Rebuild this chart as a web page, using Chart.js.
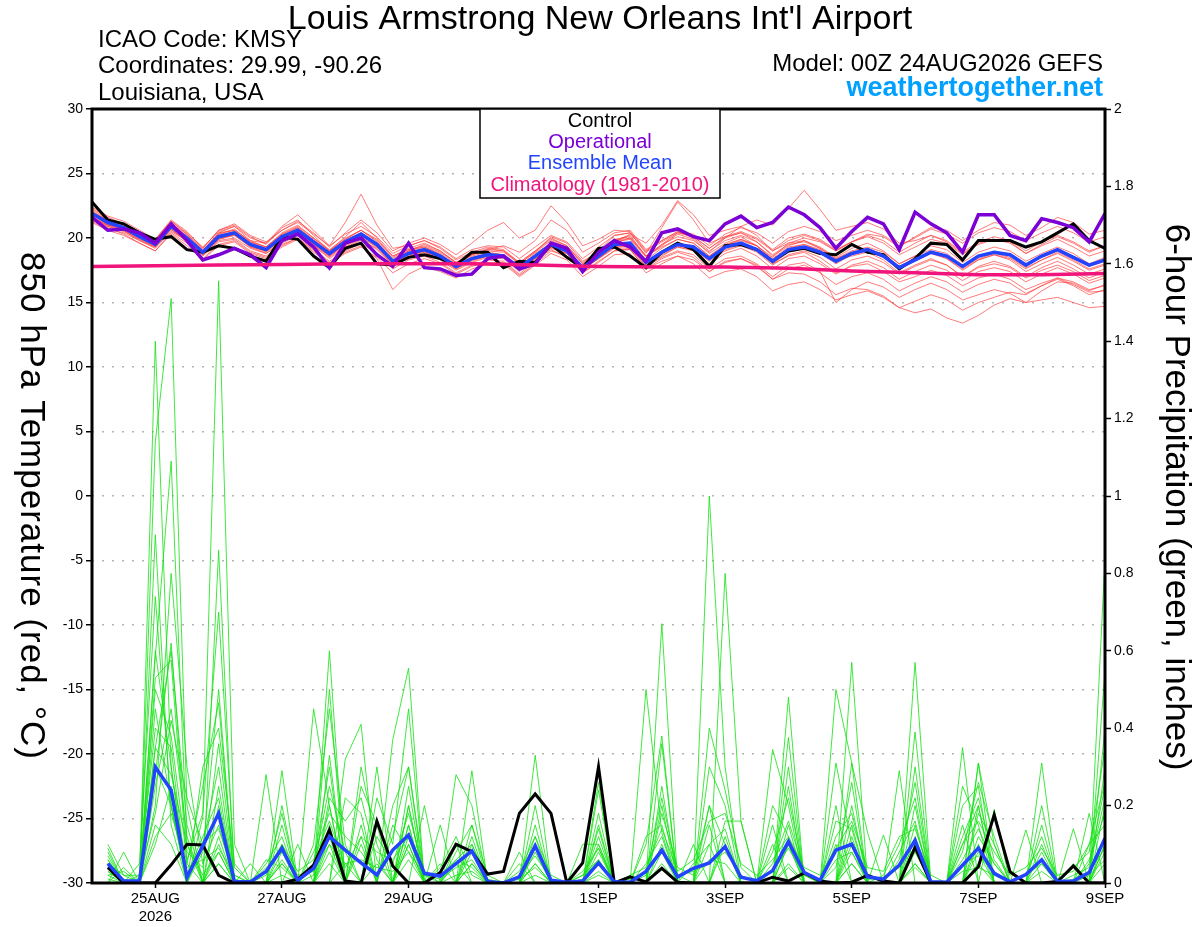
<!DOCTYPE html>
<html>
<head>
<meta charset="utf-8">
<title>KMSY GEFS plume</title>
<script src="https://cdn.jsdelivr.net/npm/chart.js@4.4.1/dist/chart.umd.min.js"></script>
<style>
  html, body { margin: 0; padding: 0; background: #fff; }
  #wrap { width: 1200px; height: 927px; }
</style>
</head>
<body>
<div id="wrap"><canvas id="plume" width="1200" height="927"></canvas></div>
<script>
'use strict';

// x axis ticks (hours after 00Z 24AUG2026)
let dayTicks = [24, 72, 120, 192, 240, 288, 336, 384];
let dayLabels = ['25AUG', '27AUG', '29AUG', '1SEP', '3SEP', '5SEP', '7SEP', '9SEP'];

// climatology, one value per day (00Z)
let climHours = [0, 24, 48, 72, 96, 120, 144, 168, 192, 216, 240, 264, 288, 312, 336, 360, 384];
let climTemp = [17.8, 17.85, 17.9, 17.95, 18.0, 18.0, 18.0, 17.9, 17.8, 17.75, 17.75, 17.65, 17.45, 17.3, 17.15, 17.15, 17.25];

// 850 hPa temperature, 6-hourly, hour 0..384 (65 values)
let ctrlTemp = [22.8, 21.4, 21.1, 20.4, 19.9, 20.1, 19.1, 18.9, 19.4, 19.2, 18.6, 18.2, 20.1, 19.9, 18.6, 17.7,
  19.2, 19.6, 18.0, 17.9, 18.5, 18.7, 18.4, 17.9, 18.9, 18.9, 17.7, 18.2, 18.1, 19.5, 18.5, 17.7,
  19.2, 19.3, 18.6, 17.7, 18.9, 19.6, 19.1, 17.8, 19.4, 19.5, 19.1, 18.2, 19.0, 19.2, 18.8, 18.7,
  19.5, 18.9, 18.7, 17.6, 18.4, 19.6, 19.5, 18.3, 19.8, 19.8, 19.8, 19.3, 19.7, 20.4, 21.1, 19.8, 19.2];
let operTemp = [21.6, 20.6, 20.7, 20.4, 19.6, 21.1, 19.8, 18.3, 18.7, 19.2, 18.7, 17.7, 19.8, 20.3, 19.3, 17.7,
  19.6, 20.0, 18.7, 17.8, 19.6, 17.7, 17.6, 17.1, 17.2, 18.4, 18.6, 17.6, 18.0, 19.6, 19.2, 17.4,
  18.9, 19.8, 19.3, 18.2, 20.4, 20.7, 20.1, 19.8, 21.1, 21.7, 20.8, 21.2, 22.4, 21.8, 20.8, 19.2,
  20.5, 21.6, 21.1, 19.1, 22.0, 21.1, 20.4, 18.9, 21.8, 21.8, 20.2, 19.8, 21.5, 21.2, 20.8, 19.7, 21.9];
let meanTemp = [21.9, 21.2, 20.8, 20.1, 19.5, 20.9, 20.0, 18.9, 20.1, 20.4, 19.5, 19.1, 20.1, 20.6, 19.7, 18.8,
  19.7, 20.3, 19.5, 18.2, 18.8, 19.1, 18.6, 17.8, 18.4, 18.7, 18.6, 17.7, 18.6, 19.5, 19.0, 17.7,
  18.6, 19.5, 19.6, 18.1, 18.9, 19.5, 19.3, 18.4, 19.3, 19.6, 19.1, 18.2, 19.1, 19.3, 18.9, 18.2,
  18.8, 19.1, 18.6, 17.7, 18.3, 18.9, 18.6, 17.8, 18.6, 18.9, 18.7, 17.9, 18.6, 19.1, 18.5, 17.9, 18.3];

// ensemble members, temperature
let t01 = [21.6, 21.0, 20.9, 20.4, 19.8, 21.3, 20.3, 19.2, 20.6, 21.0, 20.1, 19.5, 20.8, 21.4, 20.2, 19.0,
  20.1, 21.2, 20.0, 18.6, 19.2, 19.6, 19.0, 18.1, 18.7, 19.2, 19.0, 18.0, 18.9, 20.1, 19.6, 18.2,
  18.9, 19.8, 20.2, 18.6, 19.4, 20.3, 19.9, 18.8, 19.6, 20.1, 19.4, 18.0, 18.6, 18.9, 18.2, 17.3,
  17.8, 18.0, 17.4, 16.6, 17.0, 17.5, 17.1, 16.3, 16.9, 17.2, 16.8, 16.0, 16.5, 16.9, 16.4, 15.8, 15.9];
let t02 = [21.4, 20.8, 20.3, 19.6, 19.0, 20.4, 19.6, 18.4, 19.5, 19.8, 18.9, 18.5, 19.4, 20.0, 19.1, 18.2,
  19.0, 19.6, 18.8, 17.6, 18.3, 18.6, 18.1, 17.3, 17.9, 18.3, 18.2, 17.2, 18.2, 19.2, 18.8, 17.5,
  18.5, 19.6, 20.0, 18.5, 19.5, 20.4, 20.3, 19.4, 20.3, 20.8, 20.4, 19.6, 20.5, 20.9, 20.5, 19.8,
  20.2, 20.6, 20.2, 19.4, 20.0, 20.7, 20.3, 19.6, 20.4, 20.8, 20.5, 19.8, 20.4, 20.9, 20.4, 19.7, 20.1];
let t03 = [22.2, 21.5, 21.0, 20.2, 19.6, 21.2, 20.1, 19.0, 20.4, 20.9, 19.8, 19.6, 20.9, 21.8, 20.6, 19.4,
  21.2, 23.4, 21.0, 19.2, 19.4, 19.8, 19.2, 18.3, 18.9, 19.3, 19.1, 18.1, 19.0, 20.0, 19.4, 18.1,
  19.0, 20.2, 20.4, 18.8, 20.8, 22.8, 21.4, 19.6, 20.1, 20.4, 19.7, 18.6, 19.4, 19.8, 19.3, 18.5,
  19.2, 19.6, 19.0, 18.0, 18.6, 19.4, 19.1, 18.1, 18.9, 19.3, 19.0, 18.2, 18.8, 19.3, 18.8, 18.0, 18.5];
let t04 = [21.7, 21.1, 20.6, 19.8, 19.2, 20.5, 19.8, 18.7, 19.8, 20.0, 19.2, 18.8, 19.6, 20.2, 19.4, 18.4,
  19.3, 19.8, 19.2, 17.9, 18.5, 18.9, 18.3, 17.5, 18.1, 18.5, 18.4, 17.4, 18.3, 19.1, 18.5, 17.3,
  18.2, 19.0, 19.1, 17.6, 18.4, 18.9, 18.5, 17.4, 18.2, 18.4, 17.9, 16.8, 17.3, 17.2, 16.6, 15.6,
  16.1, 16.0, 15.5, 14.6, 14.2, 14.5, 13.8, 13.4, 14.0, 14.8, 15.3, 15.0, 15.9, 16.6, 16.5, 15.9, 16.4];
let t05 = [22.0, 21.4, 21.1, 20.3, 19.7, 21.0, 20.2, 19.1, 20.3, 20.6, 19.7, 19.3, 20.3, 20.9, 20.0, 19.1,
  20.0, 20.6, 19.9, 18.5, 19.1, 19.4, 18.9, 18.1, 18.8, 19.0, 18.9, 18.0, 18.9, 19.8, 19.3, 18.0,
  18.9, 19.9, 20.1, 18.6, 19.5, 20.1, 19.8, 18.9, 20.0, 20.9, 21.4, 21.0, 22.3, 23.7, 22.2, 20.6,
  20.9, 21.2, 20.7, 19.6, 19.8, 20.2, 19.7, 18.8, 19.5, 19.9, 19.6, 18.8, 19.4, 19.9, 19.3, 18.6, 19.0];
let t06 = [21.5, 20.9, 20.5, 19.9, 19.3, 20.7, 19.7, 18.6, 19.7, 19.9, 19.0, 18.6, 19.5, 20.0, 19.0, 18.1,
  18.9, 19.4, 18.4, 16.0, 17.2, 17.8, 17.4, 16.9, 17.6, 18.0, 18.1, 17.1, 18.0, 19.0, 18.6, 17.3,
  18.1, 19.0, 19.2, 17.8, 18.6, 19.3, 19.0, 18.0, 18.8, 19.2, 18.6, 17.6, 18.4, 18.6, 18.0, 17.2,
  17.9, 18.2, 17.7, 16.8, 17.4, 17.9, 17.5, 16.7, 17.4, 17.7, 17.4, 16.6, 17.2, 17.7, 17.2, 16.5, 16.9];
let t07 = [22.1, 21.4, 21.0, 20.4, 19.9, 21.3, 20.4, 19.3, 20.5, 20.9, 20.0, 19.6, 20.6, 21.2, 20.3, 19.4,
  20.3, 20.9, 20.1, 18.8, 19.4, 19.8, 19.3, 18.4, 19.1, 19.4, 19.3, 18.4, 19.3, 20.2, 19.7, 18.4,
  19.3, 20.2, 20.4, 18.9, 19.7, 20.4, 20.1, 19.2, 20.1, 20.5, 20.0, 19.1, 20.0, 20.3, 19.9, 19.1,
  19.7, 20.1, 19.6, 18.7, 19.3, 19.9, 19.6, 18.7, 19.6, 19.9, 19.7, 18.8, 19.5, 20.1, 19.6, 18.9, 19.4];
let t08 = [21.8, 21.2, 20.7, 20.0, 19.4, 20.9, 19.9, 18.8, 20.0, 20.3, 19.4, 18.9, 19.9, 20.4, 19.5, 18.6,
  19.5, 20.0, 19.3, 18.0, 18.6, 19.0, 18.5, 17.6, 18.3, 18.6, 18.5, 17.6, 18.4, 19.3, 18.8, 17.6,
  18.4, 19.3, 19.3, 17.8, 18.5, 19.0, 18.7, 17.6, 18.4, 18.6, 18.0, 17.0, 17.9, 18.1, 17.4, 15.0,
  16.0, 16.6, 16.2, 15.4, 16.0, 16.5, 16.0, 15.2, 15.6, 16.0, 15.7, 15.0, 15.2, 15.4, 15.0, 14.6, 14.7];
let t09 = [21.9, 21.3, 20.9, 20.2, 19.6, 20.8, 20.0, 18.9, 20.2, 20.5, 19.6, 19.2, 20.2, 20.8, 19.8, 18.9,
  19.8, 20.4, 19.6, 18.3, 19.0, 19.3, 18.7, 17.9, 18.7, 19.1, 19.4, 18.9, 19.8, 21.4, 20.6, 18.9,
  19.6, 20.4, 20.6, 19.1, 19.8, 20.5, 20.0, 19.0, 19.8, 20.2, 19.7, 18.7, 19.5, 19.7, 19.2, 18.4,
  19.0, 19.3, 18.9, 18.0, 18.6, 19.1, 18.8, 17.9, 18.6, 18.9, 18.7, 17.9, 18.5, 19.0, 18.4, 17.8, 18.2];
let t10 = [21.6, 21.0, 20.6, 20.0, 19.5, 20.8, 19.9, 18.8, 20.0, 20.2, 19.3, 19.0, 19.9, 20.5, 19.6, 18.7,
  19.6, 20.2, 19.4, 18.1, 18.7, 19.0, 18.5, 17.7, 18.3, 18.6, 18.5, 17.6, 18.5, 19.4, 18.9, 17.6,
  18.5, 19.5, 19.6, 18.1, 18.9, 19.6, 19.4, 18.5, 19.4, 19.8, 19.4, 18.5, 19.6, 20.0, 19.7, 19.0,
  19.7, 20.3, 20.1, 19.3, 20.1, 20.8, 20.6, 19.8, 20.6, 21.2, 21.0, 20.2, 20.8, 21.6, 21.2, 20.3, 20.6];
let t11 = [22.3, 21.6, 21.1, 20.5, 19.8, 21.1, 20.3, 19.0, 20.4, 20.6, 19.8, 19.3, 20.3, 20.8, 19.9, 19.0,
  19.9, 20.6, 19.8, 18.6, 19.1, 19.3, 18.8, 18.0, 18.6, 18.9, 18.7, 17.8, 18.6, 19.6, 19.1, 17.8,
  18.7, 19.8, 20.0, 18.6, 19.3, 19.9, 19.6, 18.6, 19.5, 19.9, 19.4, 18.4, 19.3, 19.5, 19.1, 18.3,
  18.6, 18.9, 18.3, 17.3, 17.9, 18.4, 17.9, 17.0, 17.8, 18.2, 17.8, 17.0, 17.7, 18.2, 17.6, 16.9, 17.4];
let t12 = [21.3, 20.7, 20.4, 19.8, 19.3, 20.6, 19.8, 18.7, 19.9, 20.3, 19.3, 18.8, 19.8, 20.5, 19.5, 18.6,
  19.5, 20.1, 19.3, 18.0, 18.7, 19.0, 18.5, 17.7, 18.4, 18.8, 18.7, 17.8, 18.8, 19.6, 19.1, 17.8,
  18.6, 19.4, 19.5, 18.0, 18.8, 19.4, 19.2, 18.3, 19.1, 19.5, 19.0, 18.0, 18.9, 19.2, 18.8, 18.0,
  18.7, 19.0, 18.5, 17.6, 18.2, 18.8, 18.4, 17.5, 18.3, 18.7, 18.4, 17.6, 18.3, 18.8, 18.2, 17.5, 17.9];
let t13 = [22.0, 21.3, 20.8, 20.1, 19.4, 20.9, 20.0, 18.9, 20.1, 20.4, 19.5, 19.1, 20.0, 20.7, 19.8, 18.8,
  19.7, 20.3, 19.5, 18.2, 18.9, 19.2, 18.7, 17.9, 18.5, 18.8, 18.6, 17.7, 18.6, 19.5, 19.0, 17.7,
  18.6, 19.7, 20.3, 19.6, 21.0, 22.9, 21.8, 20.2, 20.6, 20.9, 20.2, 19.0, 19.6, 19.8, 19.2, 18.4,
  18.9, 19.2, 18.7, 17.8, 18.4, 18.9, 18.5, 17.7, 18.4, 18.8, 18.5, 17.7, 18.3, 18.9, 18.3, 17.6, 18.0];
let t14 = [21.5, 20.9, 20.6, 19.9, 19.3, 20.7, 19.8, 18.7, 19.9, 20.2, 19.4, 19.0, 19.9, 20.4, 19.4, 18.5,
  19.4, 19.9, 19.1, 17.9, 18.5, 18.9, 18.4, 17.6, 18.2, 18.6, 18.5, 17.5, 18.4, 19.3, 18.8, 17.5,
  18.4, 19.3, 19.4, 17.9, 18.7, 19.3, 19.1, 18.2, 19.0, 19.4, 18.9, 17.9, 18.7, 19.0, 18.5, 17.6,
  18.3, 18.6, 18.1, 17.2, 17.8, 18.3, 17.9, 17.0, 17.7, 18.0, 17.7, 16.9, 17.5, 17.9, 17.4, 16.7, 17.1];
let t15 = [21.2, 20.6, 20.2, 19.6, 19.0, 20.3, 19.4, 18.3, 19.4, 19.7, 18.8, 18.4, 19.3, 19.9, 18.9, 18.0,
  18.8, 19.3, 18.5, 17.3, 18.0, 18.4, 18.0, 17.2, 17.8, 18.1, 18.0, 17.0, 17.9, 18.8, 18.3, 17.0,
  17.8, 18.7, 18.8, 17.3, 18.0, 18.6, 18.3, 17.4, 18.1, 18.4, 17.8, 16.8, 17.6, 17.9, 17.3, 16.4,
  17.0, 17.3, 16.8, 15.9, 16.5, 17.0, 16.6, 15.8, 16.4, 16.8, 16.5, 15.7, 16.3, 16.8, 16.3, 15.6, 16.0];
let t16 = [22.4, 21.7, 21.3, 20.6, 19.9, 21.4, 20.5, 19.2, 20.6, 21.1, 20.2, 19.7, 20.6, 21.3, 20.4, 19.3,
  20.4, 21.4, 20.4, 19.0, 19.6, 20.0, 19.5, 18.7, 19.6, 20.6, 21.2, 20.0, 20.6, 22.5, 21.2, 19.4,
  19.9, 20.6, 20.5, 19.0, 19.8, 20.5, 20.1, 19.2, 20.0, 20.4, 19.9, 19.0, 19.8, 20.2, 19.8, 19.0,
  19.7, 20.2, 19.8, 18.9, 19.6, 20.2, 19.8, 18.9, 19.7, 20.1, 19.8, 19.0, 19.7, 20.2, 19.7, 19.0, 19.4];
let t17 = [21.8, 21.1, 20.9, 20.2, 19.5, 21.0, 20.1, 19.0, 20.3, 20.7, 19.7, 19.3, 20.4, 21.0, 20.0, 19.0,
  19.9, 20.6, 19.7, 18.4, 19.0, 19.5, 19.0, 18.1, 18.7, 19.1, 19.0, 18.1, 19.0, 19.9, 19.4, 18.0,
  18.8, 19.7, 19.9, 18.3, 19.2, 19.9, 19.6, 18.6, 19.4, 19.9, 19.4, 18.3, 19.2, 19.5, 19.0, 18.1,
  18.8, 19.2, 18.7, 17.7, 18.3, 18.9, 18.4, 17.6, 18.3, 18.7, 18.3, 17.4, 18.0, 18.5, 17.9, 17.2, 17.6];
let t18 = [21.6, 21.0, 20.7, 20.0, 19.4, 20.8, 19.9, 18.8, 20.0, 20.3, 19.4, 19.0, 20.0, 20.6, 19.6, 18.6,
  19.6, 20.2, 19.4, 18.1, 18.8, 19.1, 18.6, 17.8, 18.4, 18.8, 18.7, 17.7, 18.6, 19.5, 19.0, 17.6,
  18.4, 19.2, 19.1, 17.6, 18.2, 18.6, 18.0, 16.9, 17.4, 17.6, 17.0, 15.9, 16.4, 16.6, 16.0, 15.2,
  15.6, 15.9, 15.4, 14.6, 15.1, 15.6, 15.2, 14.4, 15.0, 15.4, 15.8, 15.6, 16.3, 16.9, 16.6, 16.0, 16.3];

// 6-hour precipitation (inches), hour 6..384 (64 values, none at hour 0)
let ctrlPrecip = [0.04, 0, 0, 0, 0.047, 0.10, 0.098, 0.02, 0, 0, 0, 0, 0.01, 0.046, 0.137, 0.005,
  0, 0.16, 0.044, 0, 0, 0.027, 0.10, 0.081, 0.023, 0.03, 0.18, 0.23, 0.18, 0, 0.052, 0.30,
  0, 0.016, 0.003, 0.038, 0.002, 0, 0, 0, 0, 0, 0.015, 0.005, 0.026, 0.005, 0, 0.002,
  0.02, 0.005, 0, 0.092, 0, 0, 0, 0.042, 0.176, 0.029, 0, 0, 0.004, 0.044, 0, 0];
let meanPrecip = [0.05, 0.005, 0.005, 0.30, 0.24, 0.015, 0.096, 0.18, 0.003, 0.003, 0.03, 0.09, 0.007, 0.038, 0.12, 0.085,
  0.052, 0.021, 0.085, 0.124, 0.025, 0.018, 0.05, 0.083, 0.004, 0, 0.016, 0.096, 0.007, 0.002, 0.005, 0.052,
  0.003, 0.002, 0.03, 0.085, 0.016, 0.038, 0.052, 0.094, 0.015, 0.006, 0.032, 0.107, 0.027, 0.007, 0.085, 0.10,
  0.016, 0.01, 0.046, 0.11, 0.003, 0.002, 0.046, 0.09, 0.025, 0.003, 0.022, 0.06, 0.004, 0.005, 0.027, 0.116];

// ensemble members, precipitation
let p01 = [0.05, 0, 0, 1.40, 0.30, 0, 0, 0.12, 0, 0, 0, 0, 0, 0.02, 0.60, 0, 0, 0, 0, 0.10, 0, 0, 0, 0,
  0, 0, 0, 0.05, 0, 0, 0, 0.02, 0, 0, 0, 0.67, 0, 0, 0.20, 0, 0, 0, 0, 0, 0, 0, 0, 0.57,
  0, 0, 0, 0.05, 0, 0, 0, 0.31, 0, 0, 0, 0, 0, 0, 0, 0.84];
let p02 = [0.10, 0.02, 0, 1.14, 1.51, 0.20, 0, 0.05, 0, 0, 0, 0.29, 0, 0, 0, 0.32, 0.41, 0, 0, 0, 0, 0, 0, 0.29,
  0, 0, 0, 0, 0, 0, 0, 0.26, 0, 0, 0, 0, 0, 0, 1.00, 0.30, 0, 0, 0, 0.48, 0, 0, 0, 0,
  0, 0, 0, 0.39, 0, 0, 0, 0, 0.19, 0, 0, 0.31, 0, 0, 0, 0];
let p03 = [0, 0, 0.05, 0.74, 0.20, 0, 0.17, 1.556, 0.10, 0, 0, 0, 0, 0, 0.50, 0, 0, 0, 0.37, 0.555, 0, 0, 0.10, 0,
  0, 0, 0, 0.33, 0, 0, 0, 0, 0, 0, 0.10, 0.38, 0, 0, 0, 0.80, 0.16, 0, 0, 0, 0, 0, 0.50, 0.31,
  0, 0, 0, 0, 0, 0, 0.35, 0, 0, 0, 0, 0, 0, 0, 0.18, 0];
let p04 = [0.07, 0, 0, 0.585, 1.09, 0.10, 0, 0.86, 0, 0, 0.28, 0, 0, 0.45, 0.20, 0, 0, 0.30, 0, 0, 0, 0.15, 0, 0,
  0, 0, 0.08, 0, 0, 0, 0.10, 0.10, 0, 0, 0, 0, 0, 0, 0, 0, 0, 0, 0.345, 0.20, 0, 0, 0, 0,
  0, 0, 0, 0.57, 0, 0, 0, 0.20, 0, 0, 0.137, 0, 0, 0, 0, 0.30];
let p05 = [0, 0.08, 0, 0.53, 0.576, 0.05, 0.25, 0.466, 0, 0, 0, 0.15, 0, 0, 0.33, 0, 0.25, 0.15, 0, 0, 0.20, 0, 0, 0.10,
  0, 0, 0, 0, 0, 0, 0, 0.24, 0, 0, 0, 0.36, 0, 0, 0, 0, 0, 0, 0, 0.376, 0, 0, 0.31, 0.10,
  0, 0, 0.29, 0, 0, 0, 0.15, 0, 0, 0, 0, 0.10, 0, 0.14, 0, 0.55];
let p06 = [0.03, 0, 0.02, 0.40, 0.35, 0, 0.10, 0.30, 0, 0.05, 0, 0, 0.10, 0, 0, 0.22, 0.18, 0, 0.20, 0.30, 0, 0, 0, 0.05,
  0, 0, 0, 0.15, 0, 0, 0, 0.15, 0, 0, 0.50, 0.13, 0, 0, 0, 0.16, 0.16, 0, 0.10, 0, 0, 0, 0, 0.31,
  0.13, 0, 0, 0.30, 0, 0, 0, 0.31, 0.10, 0, 0, 0, 0, 0, 0, 0.20];
let p07 = [0.08, 0, 0, 0.25, 0.45, 0.12, 0, 0.20, 0, 0, 0.05, 0.12, 0, 0.10, 0.45, 0.10, 0, 0, 0, 0.20, 0, 0, 0.28, 0.20,
  0, 0, 0, 0.10, 0, 0, 0, 0.08, 0, 0, 0, 0.20, 0, 0.10, 0, 0, 0, 0, 0, 0.15, 0, 0, 0, 0.10,
  0, 0.124, 0, 0.15, 0, 0, 0.25, 0.15, 0, 0, 0, 0, 0, 0, 0.10, 0.15];
let p08 = [0.02, 0, 0, 0.90, 0.15, 0, 0, 0.10, 0, 0, 0, 0.20, 0, 0, 0.20, 0, 0.30, 0.10, 0, 0.15, 0, 0, 0, 0.12,
  0, 0, 0.05, 0, 0, 0, 0, 0.12, 0, 0, 0, 0, 0, 0, 0.30, 0.20, 0, 0, 0, 0.10, 0, 0, 0.20, 0,
  0, 0, 0, 0.10, 0, 0, 0, 0.08, 0, 0, 0, 0.05, 0, 0, 0, 0.08];
let p09 = [0, 0, 0, 0.20, 0.80, 0.30, 0.05, 0.15, 0, 0, 0, 0, 0, 0, 0.12, 0, 0, 0.22, 0.10, 0.45, 0, 0, 0, 0,
  0, 0, 0, 0.20, 0, 0, 0, 0, 0, 0, 0, 0.10, 0, 0, 0.15, 0, 0, 0, 0, 0.30, 0, 0, 0, 0.20,
  0, 0, 0, 0.20, 0, 0, 0.10, 0.20, 0, 0, 0, 0, 0, 0, 0, 0.10];
let p10 = [0.04, 0, 0, 0.15, 0.10, 0, 0.30, 0.40, 0.05, 0, 0, 0.10, 0, 0.05, 0.30, 0, 0.15, 0, 0, 0.20, 0, 0, 0, 0.15,
  0, 0, 0, 0, 0, 0, 0, 0.05, 0, 0, 0.12, 0.15, 0, 0, 0, 0.10, 0, 0, 0.15, 0, 0, 0, 0, 0.15,
  0, 0, 0, 0.10, 0, 0, 0, 0.12, 0.05, 0, 0, 0, 0, 0.05, 0, 0.40];
let p11 = [0, 0.04, 0, 0.35, 0.60, 0.15, 0, 0.08, 0, 0, 0, 0.05, 0, 0, 0.15, 0, 0.10, 0, 0, 0.25, 0, 0.05, 0, 0.08,
  0, 0, 0, 0.08, 0, 0, 0, 0.18, 0, 0, 0, 0.25, 0, 0, 0, 0, 0, 0, 0, 0.25, 0, 0, 0.10, 0,
  0, 0, 0, 0.05, 0, 0, 0.20, 0.25, 0, 0, 0, 0.15, 0, 0, 0, 0.05];
let p12 = [0.06, 0, 0, 0.60, 0.30, 0, 0, 0.25, 0, 0, 0, 0.05, 0, 0, 0.10, 0, 0, 0.05, 0, 0.12, 0, 0, 0, 0.05,
  0, 0, 0, 0, 0, 0, 0, 0.10, 0, 0, 0, 0, 0, 0, 0.10, 0, 0, 0, 0, 0.10, 0, 0, 0, 0.05,
  0, 0, 0, 0.12, 0, 0, 0, 0.10, 0, 0, 0, 0, 0, 0, 0.05, 0.25];
let p13 = [0, 0, 0, 0.10, 0.25, 0.05, 0, 0.05, 0, 0, 0, 0, 0, 0, 0.08, 0, 0.12, 0, 0, 0.10, 0, 0, 0.05, 0,
  0, 0, 0, 0, 0, 0, 0, 0.05, 0, 0, 0, 0.05, 0, 0, 0, 0, 0, 0, 0, 0.05, 0, 0, 0, 0.08,
  0, 0, 0, 0, 0, 0, 0, 0.05, 0, 0, 0, 0, 0, 0, 0, 0.12];
let p14 = [0.03, 0, 0, 0.30, 0.20, 0, 0.08, 0.50, 0, 0, 0, 0.08, 0, 0, 0, 0.05, 0, 0, 0.15, 0.08, 0, 0, 0, 0,
  0, 0, 0, 0.05, 0, 0, 0, 0, 0, 0, 0, 0.08, 0, 0, 0, 0.12, 0, 0, 0, 0, 0, 0, 0, 0.12,
  0, 0, 0, 0.08, 0, 0, 0, 0.18, 0.10, 0, 0, 0, 0, 0, 0, 0.10];
let p15 = [0.02, 0.03, 0, 0.12, 0.18, 0.04, 0.06, 0.09, 0.02, 0, 0.04, 0.08, 0.02, 0.03, 0.10, 0.05,
  0.06, 0.04, 0.03, 0.08, 0.02, 0.01, 0.04, 0.06, 0, 0, 0.02, 0.07, 0.01, 0, 0.01, 0.06,
  0, 0.01, 0.03, 0.09, 0.02, 0.03, 0.05, 0.08, 0.02, 0, 0.03, 0.09, 0.02, 0, 0.06, 0.08,
  0.01, 0.01, 0.04, 0.09, 0, 0, 0.05, 0.07, 0.03, 0, 0.02, 0.05, 0, 0.01, 0.03, 0.09];
let p16 = [0.06, 0, 0, 0.45, 0.20, 0.02, 0.12, 0.22, 0, 0, 0.02, 0.18, 0, 0.04, 0.25, 0.08,
  0, 0.12, 0.05, 0.18, 0.03, 0, 0.08, 0.15, 0.02, 0, 0, 0.12, 0, 0, 0.03, 0.09,
  0, 0, 0.05, 0.12, 0, 0.05, 0.10, 0.14, 0, 0, 0.05, 0.16, 0.03, 0, 0.12, 0.18,
  0.02, 0, 0.08, 0.16, 0, 0, 0.06, 0.14, 0.05, 0, 0, 0.08, 0, 0, 0.06, 0.18];
let p17 = [0.04, 0.01, 0, 0.28, 0.62, 0.08, 0.04, 0.36, 0.01, 0, 0, 0.06, 0, 0.08, 0.18, 0.12,
  0.08, 0.02, 0.12, 0.30, 0.02, 0, 0.06, 0.04, 0, 0, 0.01, 0.04, 0, 0, 0, 0.14,
  0, 0, 0.02, 0.22, 0.02, 0, 0.40, 0.24, 0.04, 0, 0.08, 0.22, 0.02, 0, 0.04, 0.26,
  0, 0.02, 0.10, 0.22, 0, 0, 0.12, 0.22, 0.06, 0, 0.02, 0.12, 0, 0.02, 0.04, 0.22];
let p18 = [0.09, 0, 0, 0.50, 0.38, 0.06, 0.18, 0.70, 0.04, 0, 0.06, 0.04, 0, 0, 0.22, 0.16,
  0.22, 0.06, 0, 0.15, 0, 0.04, 0.12, 0.02, 0, 0, 0, 0.09, 0, 0, 0.02, 0.06,
  0, 0, 0, 0.18, 0.04, 0.02, 0.20, 0.10, 0, 0, 0.20, 0.12, 0, 0, 0.16, 0.14,
  0, 0, 0.06, 0.26, 0, 0, 0.08, 0.26, 0.12, 0, 0, 0.20, 0, 0.04, 0.08, 0.35];
let p19 = [0.01, 0, 0, 0.35, 0.28, 0.10, 0.02, 0.08, 0, 0, 0, 0.02, 0, 0, 0.05, 0,
  0, 0, 0, 0.06, 0, 0, 0.02, 0.03, 0, 0, 0, 0.02, 0, 0, 0, 0.03,
  0, 0, 0, 0.04, 0, 0, 0.06, 0.05, 0, 0, 0, 0.04, 0, 0, 0, 0.05,
  0, 0, 0, 0.04, 0, 0, 0.03, 0.04, 0.02, 0, 0, 0.03, 0, 0, 0.02, 0.06];
let p20 = [0.05, 0.02, 0.02, 0.18, 0.42, 0.22, 0.10, 0.14, 0.02, 0, 0.03, 0.10, 0.03, 0.06, 0.16, 0.04,
  0.12, 0.08, 0.06, 0.12, 0.02, 0.02, 0.06, 0.10, 0.01, 0, 0.03, 0.12, 0.02, 0, 0.02, 0.09,
  0, 0.02, 0.04, 0.14, 0.03, 0.06, 0.16, 0.18, 0.05, 0.02, 0.06, 0.12, 0.04, 0.02, 0.09, 0.16,
  0.04, 0.03, 0.12, 0.14, 0.02, 0, 0.10, 0.16, 0.08, 0.02, 0.04, 0.09, 0.02, 0.03, 0.10, 0.26];

let tempMembers = [t01, t02, t03, t04, t05, t06, t07, t08, t09, t10, t11, t12, t13, t14, t15, t16, t17, t18];
let precipMembers = [p01, p02, p03, p04, p05, p06, p07, p08, p09, p10, p11, p12, p13, p14, p15, p16, p17, p18, p19, p20];

const FONT = '"Liberation Sans", Arial, Helvetica, sans-serif';

// 6-hourly time steps in hours
let hours = [];
for (let h = 0; h <= 384; h += 6) {
  hours.push(h);
}

function tempLine(values, color, width, order) {
  return {
    data: values,
    yAxisID: 'y',
    borderColor: color,
    borderWidth: width,
    pointRadius: 0,
    tension: 0,
    fill: false,
    order: order
  };
}

function precipLine(values, color, width, order) {
  // precip has no value at hour 0
  return {
    data: [null].concat(values),
    yAxisID: 'y2',
    borderColor: color,
    borderWidth: width,
    pointRadius: 0,
    tension: 0,
    fill: false,
    order: order
  };
}

let datasets = [];
datasets.push({
  data: climHours.map((h, i) => ({ x: h, y: climTemp[i] })),
  yAxisID: 'y',
  borderColor: '#f0147c',
  borderWidth: 3.5,
  pointRadius: 0,
  fill: false,
  order: 1
});
datasets.push(tempLine(operTemp, '#7a00d6', 3.5, 2));
datasets.push(tempLine(meanTemp, '#2244ff', 3.5, 3));
datasets.push(tempLine(ctrlTemp, '#000000', 3, 4));
datasets.push(precipLine(meanPrecip, '#2244ff', 3.5, 5));
datasets.push(precipLine(ctrlPrecip, '#000000', 3, 6));
for (let i = 0; i < tempMembers.length; i++) {
  datasets.push(tempLine(tempMembers[i], 'rgba(255, 60, 60, 0.85)', 0.8, 10));
}
for (let i = 0; i < precipMembers.length; i++) {
  datasets.push(precipLine(precipMembers[i], 'rgba(20, 225, 20, 0.9)', 0.9, 11));
}

// frame round the plot area
const framePlugin = {
  id: 'frame',
  afterDatasetsDraw(chart) {
    const { ctx, chartArea: a } = chart;
    ctx.save();
    ctx.strokeStyle = '#000';
    ctx.lineWidth = 3;
    ctx.strokeRect(a.left, a.top, a.right - a.left, a.bottom - a.top);
    ctx.restore();
  }
};

function spacedText(ctx, text, x, y, spacing) {
  ctx.letterSpacing = spacing + 'px';
  ctx.fillText(text, x, y);
  ctx.letterSpacing = '0px';
}

// header texts, axis titles (both read top to bottom) and the legend box
const headerPlugin = {
  id: 'header',
  afterDraw(chart) {
    const ctx = chart.ctx;
    ctx.save();
    ctx.textBaseline = 'middle';
    ctx.fillStyle = '#000';

    ctx.font = '34px ' + FONT;
    ctx.textAlign = 'center';
    ctx.fillText("Louis Armstrong New Orleans Int'l Airport", 600, 20);

    ctx.font = '24px ' + FONT;
    ctx.textAlign = 'left';
    ctx.fillText('ICAO Code: KMSY', 98, 40);
    ctx.fillText('Coordinates: 29.99, -90.26', 98, 66);
    ctx.fillText('Louisiana, USA', 98, 93);

    ctx.textAlign = 'right';
    ctx.fillText('Model: 00Z 24AUG2026 GEFS', 1103, 64);
    ctx.font = 'bold 27px ' + FONT;
    ctx.fillStyle = '#00a0ff';
    ctx.fillText('weathertogether.net', 1103, 89);

    // axis titles
    ctx.fillStyle = '#000';
    ctx.textAlign = 'center';
    ctx.font = '35px ' + FONT;
    ctx.save();
    ctx.translate(31, 506);
    ctx.rotate(Math.PI / 2);
    spacedText(ctx, '850 hPa Temperature (red, °C)', 0, 0, 1);
    ctx.restore();
    ctx.save();
    ctx.translate(1176, 497);
    ctx.rotate(Math.PI / 2);
    ctx.fillText('6-hour Precipitation (green, inches)', 0, 0);
    ctx.restore();

    // legend
    ctx.fillStyle = '#fff';
    ctx.fillRect(480, 109, 240, 89);
    ctx.strokeStyle = '#000';
    ctx.lineWidth = 1.5;
    ctx.strokeRect(480, 109, 240, 89);
    ctx.font = '20px ' + FONT;
    ctx.textAlign = 'center';
    let rows = [['Control', '#000'], ['Operational', '#7a00d6'], ['Ensemble Mean', '#2244ff'], ['Climatology (1981-2010)', '#f0147c']];
    for (let i = 0; i < rows.length; i++) {
      ctx.fillStyle = rows[i][1];
      ctx.fillText(rows[i][0], 600, 121 + i * 21.4);
    }
    ctx.restore();
  }
};

let canvas = document.getElementById('plume');

new Chart(canvas, {
  type: 'line',
  data: { labels: hours, datasets: datasets },
  options: {
    responsive: false,
    animation: false,
    devicePixelRatio: 1,
    layout: { padding: { top: 109, left: 0, right: 0, bottom: 0 } },
    plugins: {
      legend: { display: false },
      tooltip: { enabled: false },
      title: { display: false }
    },
    scales: {
      x: {
        type: 'linear',
        min: 0,
        max: 384,
        afterFit: (scale) => { scale.height = 44; },
        afterBuildTicks: (scale) => {
          scale.ticks = dayTicks.map(v => ({ value: v }));
        },
        ticks: {
          autoSkip: false,
          maxRotation: 0,
          padding: 2,
          color: '#000',
          font: { family: FONT, size: 15 },
          callback: function (value) {
            let k = dayTicks.indexOf(value);
            if (k === 0) return [dayLabels[0], '2026'];
            return k >= 0 ? dayLabels[k] : '';
          }
        },
        grid: { drawOnChartArea: false, drawTicks: true, tickLength: 5, tickColor: '#000', tickWidth: 1.5 },
        border: { display: false }
      },
      y: {
        position: 'left',
        min: -30,
        max: 30,
        afterFit: (scale) => { scale.width = 92; },
        ticks: { stepSize: 5, padding: 3, color: '#000', font: { family: FONT, size: 14 } },
        grid: {
          color: (c) => (c.tick && Math.abs(c.tick.value) === 30) ? 'rgba(0,0,0,0)' : '#b4b4b4',
          lineWidth: 1.5,
          tickLength: 6,
          tickColor: '#000',
          tickWidth: 1.5
        },
        border: { display: false, dash: [2, 8] }
      },
      y2: {
        position: 'right',
        min: 0,
        max: 2,
        afterFit: (scale) => { scale.width = 95; },
        ticks: {
          stepSize: 0.2,
          padding: 3,
          color: '#000',
          font: { family: FONT, size: 14 },
          callback: (v) => String(Math.round(v * 10) / 10)
        },
        grid: { drawOnChartArea: false, tickLength: 6, tickColor: '#000', tickWidth: 1.5 },
        border: { display: false }
      }
    }
  },
  plugins: [framePlugin, headerPlugin]
});
</script>
</body>
</html>
